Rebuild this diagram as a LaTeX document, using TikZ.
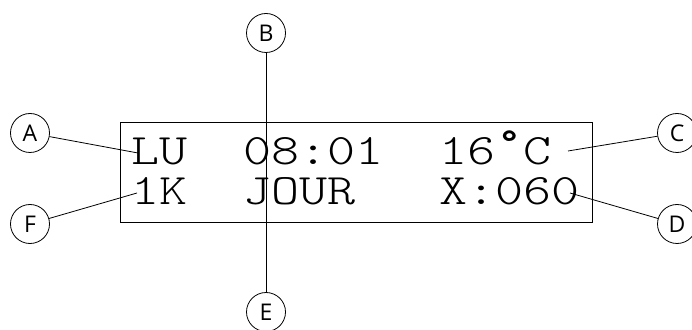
\documentclass[tikz,border=0pt]{standalone}
\usepackage{fontspec}
\usepackage{tikz}
\newfontfamily\lcdfont[FakeStretch=1.23]{Latin Modern Mono Light}
\newfontfamily\tagfont{Open Sans}
\newcommand{\lcddeg}{\makebox[\fontcharwd\font`0][c]{\smash{\raisebox{-11pt}{\fontsize{72}{72}\selectfont °}}}}
\tikzset{
	tag/.style={draw,circle,minimum size=39pt,inner sep=0pt,font=\tagfont\fontsize{23}{25}\selectfont},
	lcdrow/.style={anchor=base west,inner sep=0pt,font=\lcdfont\fontsize{43.4}{50}\selectfont}
}

\begin{document}
\begin{tikzpicture}[x=1pt,y=1pt,line width=0.8pt]
		\useasboundingbox (0,0) rectangle (692,329);
		\draw (120,107) rectangle (592,207);
		\node[lcdrow] (top) at (131,164) {LU\ \ 08:01\ \ 16\lcddeg C};
		\node[lcdrow] (bottom) at (131,124) {1K\ \ JOUR\ \ \ X:060};
		\node[tag] (A) at (30,196) {A};
		\node[tag] (F) at (30,105) {F};
		\node[tag] (B) at (266,296) {B};
		\node[tag] (E) at (266,17) {E};
		\node[tag] (C) at (677,196) {C};
		\node[tag] (D) at (677,105) {D};
		\coordinate (a) at (138,176);
		\coordinate (f) at (137,136);
		\coordinate (c) at (568,178);
		\coordinate (d) at (570,136);
		\draw (A) -- (a);
		\draw (F) -- (f);
		\draw (C) -- (c);
		\draw (D) -- (d);
		\draw (B) -- (E);
	\end{tikzpicture}
\end{document}
